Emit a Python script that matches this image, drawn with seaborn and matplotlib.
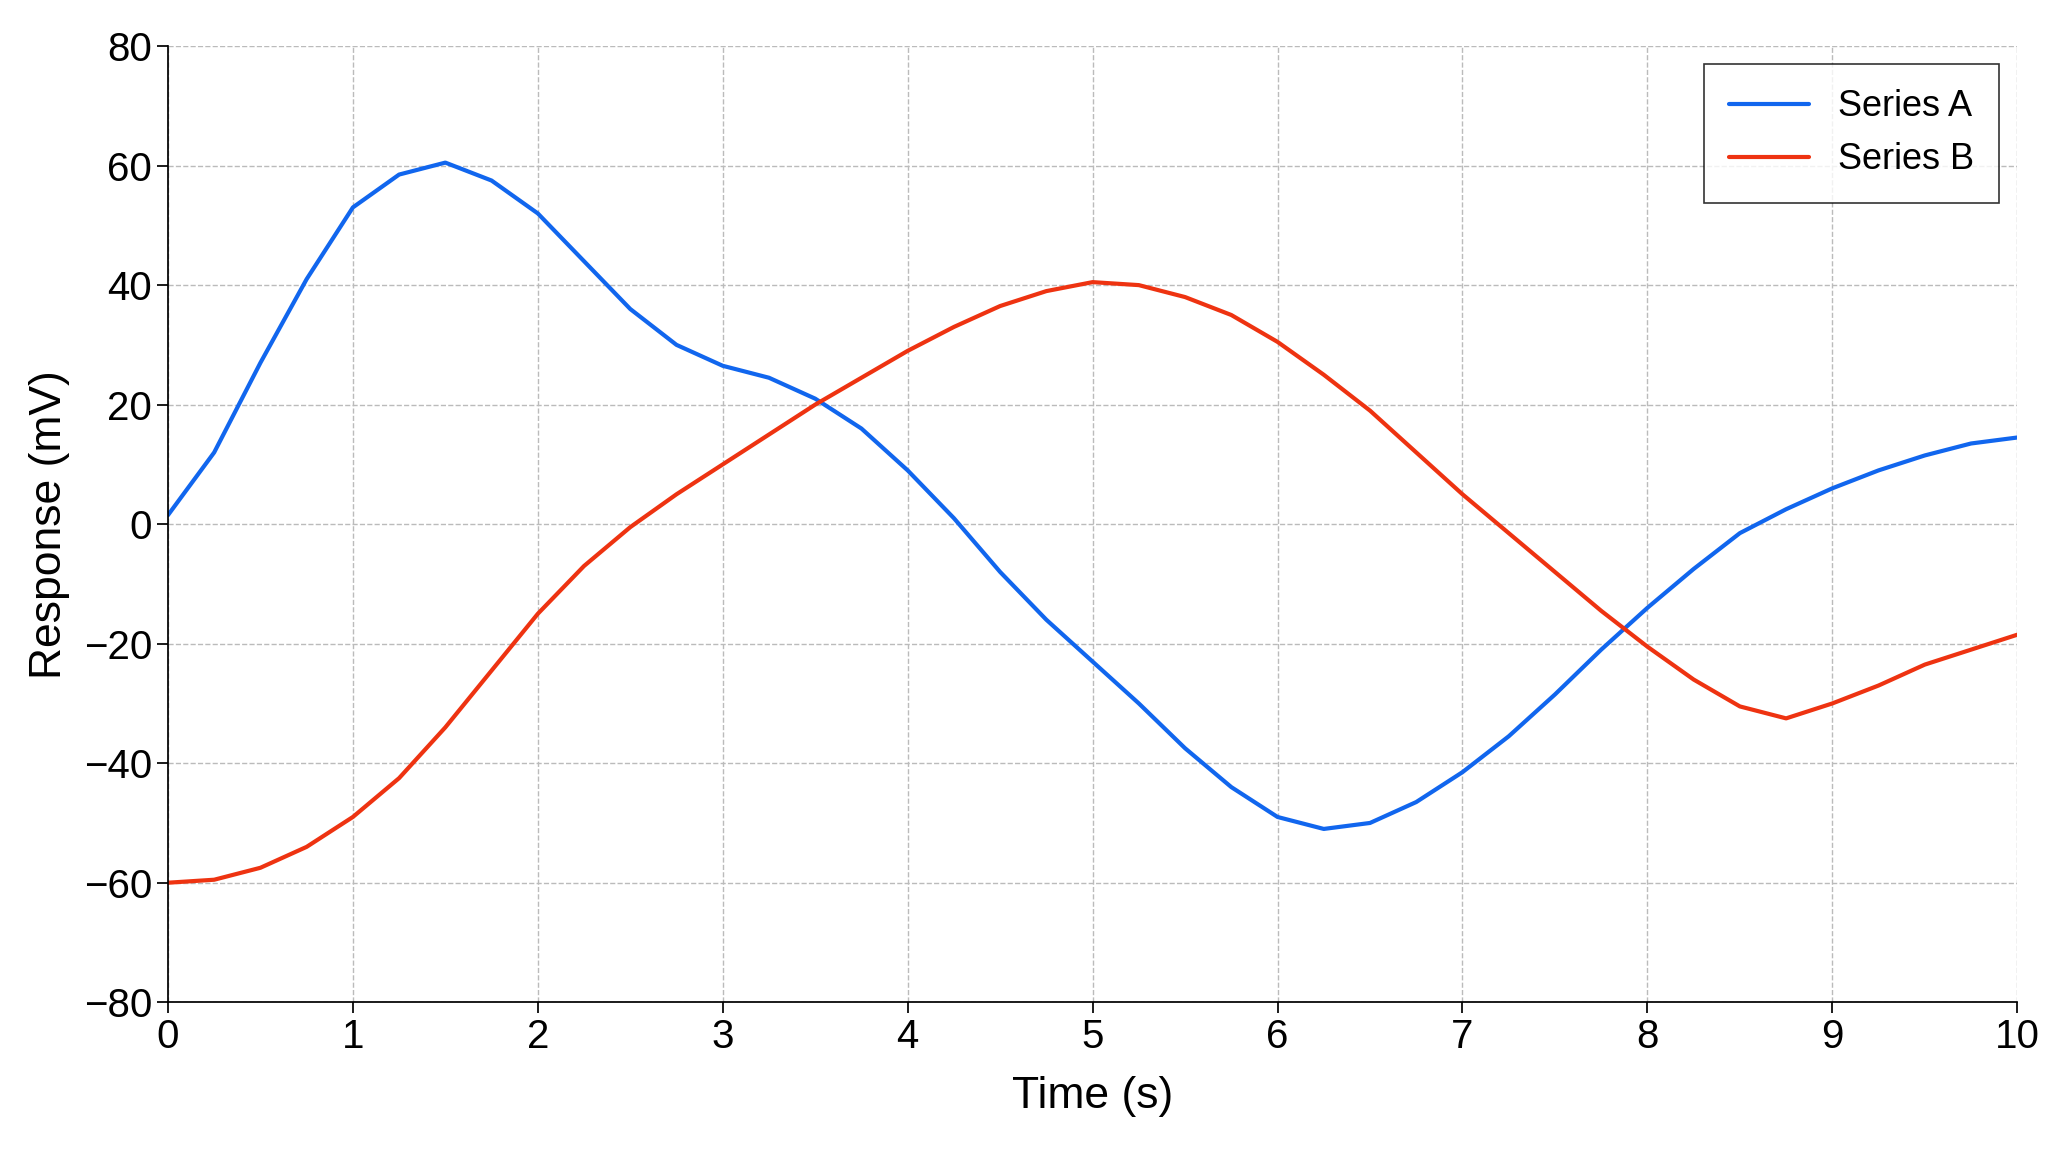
import matplotlib
matplotlib.use("Agg")
import matplotlib.pyplot as plt
import pandas
import seaborn

time = [i * 0.25 for i in range(41)]
series_a = [1.5, 12, 27, 41, 53, 58.5, 60.5, 57.5, 52, 44, 36, 30, 26.5, 24.5, 21, 16,
            9, 1, -8, -16, -23, -30, -37.5, -44, -49, -51, -50, -46.5, -41.5, -35.5,
            -28.5, -21, -14, -7.5, -1.5, 2.5, 6, 9, 11.5, 13.5, 14.5]
series_b = [-60, -59.5, -57.5, -54, -49, -42.5, -34, -24.5, -15, -7, -0.5, 5, 10, 15, 20,
            24.5, 29, 33, 36.5, 39, 40.5, 40, 38, 35, 30.5, 25, 19, 12, 5, -1.5, -8,
            -14.5, -20.5, -26, -30.5, -32.5, -30, -27, -23.5, -21, -18.5]

data = pandas.DataFrame({"time": time * 2,
                         "value": series_a + series_b,
                         "series": ["Series A"] * len(time) + ["Series B"] * len(time)})

seaborn.set_theme(style="ticks")
plt.rcParams["font.family"] = ["Liberation Sans", "DejaVu Sans"]
plt.rcParams["text.color"] = "black"
plt.rcParams["axes.labelcolor"] = "black"
plt.rcParams["xtick.color"] = "black"
plt.rcParams["ytick.color"] = "black"
plt.rcParams["axes.edgecolor"] = "black"

fig, ax = plt.subplots(figsize=(20.48, 11.52), dpi=100)
seaborn.lineplot(data=data, x="time", y="value", hue="series",
                 palette=["#1166ee", "#ee3311"], linewidth=3, ax=ax)
ax.set_xlim(0, 10)
ax.set_ylim(-80, 80)
ax.set_xticks(range(11))
ax.set_yticks(range(-80, 81, 20))
ax.grid(True, linestyle="--", color="#bbbbbb", linewidth=1)
seaborn.despine(ax=ax)
ax.tick_params(labelsize=29, length=8)
ax.set_xlabel("Time (s)", fontsize=32, labelpad=14)
ax.set_ylabel("Response (mV)", fontsize=32, labelpad=10)
leg = ax.legend(loc="upper right", fontsize=26, fancybox=False, edgecolor="black",
                borderpad=0.7, handlelength=2.2)
leg.get_frame().set_linewidth(1.2)
leg.set_title(None)
fig.subplots_adjust(left=0.082, right=0.985, top=0.96, bottom=0.13)
fig.savefig("out.png")
